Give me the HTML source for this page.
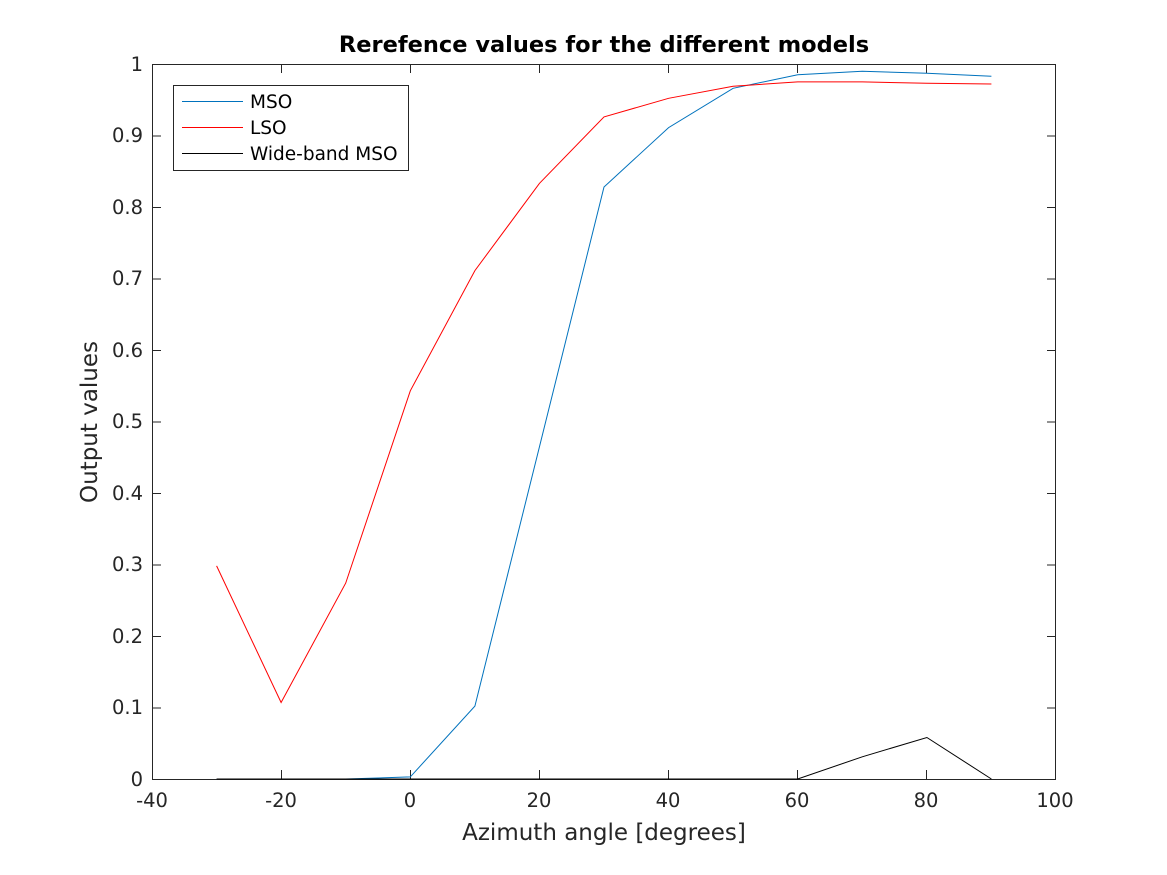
<!DOCTYPE html>
<html><head><meta charset="utf-8"><style>body{margin:0;background:#fff}svg{display:block}</style></head>
<body>
<svg width="1167" height="875" xmlns="http://www.w3.org/2000/svg" font-family="DejaVu Sans, Liberation Sans, sans-serif">
<rect width="1167" height="875" fill="#fff"/>
<g stroke="#262626" stroke-width="1" fill="none">
<rect x="152.5" y="64.5" width="903" height="715"/>
<path d="M152.5 779v-9M281.5 779v-9M410.5 779v-9M539.5 779v-9M668.5 779v-9M797.5 779v-9M926.5 779v-9M1055.5 779v-9
M152.5 64v9M281.5 64v9M410.5 64v9M539.5 64v9M668.5 64v9M797.5 64v9M926.5 64v9M1055.5 64v9"/>
<path d="M152 779.5h9M152 708h9M152 636.5h9M152 565h9M152 493.5h9M152 422h9M152 350.5h9M152 279h9M152 207.5h9M152 136h9M152 64.5h9
M1056 779.5h-9M1056 708h-9M1056 636.5h-9M1056 565h-9M1056 493.5h-9M1056 422h-9M1056 350.5h-9M1056 279h-9M1056 207.5h-9M1056 136h-9M1056 64.5h-9"/>
</g>
<g font-size="19.5" fill="#262626" text-anchor="middle">
<text x="152" y="807">-40</text><text x="281" y="807">-20</text><text x="410" y="807">0</text><text x="539" y="807">20</text><text x="668" y="807">40</text><text x="797" y="807">60</text><text x="926" y="807">80</text><text x="1055" y="807">100</text>
</g>
<g font-size="19.5" fill="#262626" text-anchor="end">
<text x="143" y="786">0</text><text x="143" y="714">0.1</text><text x="143" y="643">0.2</text><text x="143" y="571">0.3</text><text x="143" y="500">0.4</text><text x="143" y="428">0.5</text><text x="143" y="357">0.6</text><text x="143" y="285">0.7</text><text x="143" y="214">0.8</text><text x="143" y="142">0.9</text><text x="143" y="71">1</text>
</g>
<text x="604" y="840" font-size="23" fill="#262626" text-anchor="middle">Azimuth angle [degrees]</text>
<text transform="translate(97,422) rotate(-90)" font-size="23" fill="#262626" text-anchor="middle">Output values</text>
<text x="604" y="52" font-size="22.5" font-weight="bold" fill="#000" text-anchor="middle">Rerefence values for the different models</text>
<g fill="none" stroke-width="1">
<polyline stroke="#0072BD" points="216.6,779 281.1,779 345.7,779 410.3,776.9 474.9,706.1 539.4,447 604,187 668.6,127.6 733.1,88.3 797.7,74.7 862.3,71.2 926.9,73.3 991.4,76.2"/>
<polyline stroke="#FF0000" points="216.6,565.9 281.1,702.5 345.7,583.1 410.3,390.8 474.9,270.6 539.4,183.4 604,116.9 668.6,98.3 733.1,86.2 797.7,81.9 862.3,81.9 926.9,83.3 991.4,84"/>
<polyline stroke="#000" points="216.6,779 797.7,779 862.3,756.8 926.9,737.5 991.4,779"/>
</g>
<rect x="173.5" y="85.5" width="235" height="85" fill="#fff" stroke="#262626"/>
<rect x="182" y="101" width="61" height="1" fill="#0072BD"/>
<rect x="182" y="127" width="61" height="1" fill="#FF0000"/>
<rect x="182" y="153" width="61" height="1" fill="#000000"/>
<g font-size="18.5" fill="#000">
<text x="250" y="108">MSO</text><text x="250" y="134">LSO</text><text x="250" y="160">Wide-band MSO</text>
</g>
</svg>
</body></html>
